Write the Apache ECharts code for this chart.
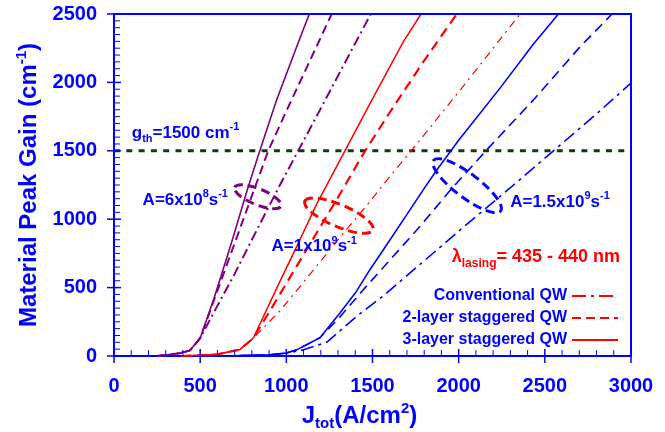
<!DOCTYPE html>
<html>
<head>
<meta charset="utf-8">
<script src="https://cdn.jsdelivr.net/npm/echarts/dist/echarts.min.js"></script>
<style>
  html, body { margin: 0; padding: 0; background: #ffffff; }
  #chart { width: 665px; height: 432px; background: #ffffff; }
</style>
</head>
<body>
<div id="chart"></div>
<script>
// Material peak gain vs. total current density for three active-region designs
// (conventional, 2-layer and 3-layer staggered QW) at three monomolecular
// recombination rates A.

// Axis ranges, major steps and minor steps
const xRange = [0, 3000];
const xStep = 500;
const xMinorStep = 100;
const yRange = [0, 2500];
const yStep = 500;
const yMinorStep = 50;

// Threshold gain (cm^-1)
const gThreshold = 1500;

// A = 6x10^8 s^-1  — [J_tot (A/cm^2), gain (cm^-1)]
const purple3Layer = [[250, 0], [380, 20], [440, 40], [500, 130], [580, 420], [680, 820], [770, 1200], [846, 1500], [943, 1870], [1060, 2260], [1133, 2500]];
const purple2Layer = [[250, 0], [380, 20], [440, 40], [500, 130], [580, 408], [700, 824], [800, 1170], [895, 1500], [1000, 1790], [1130, 2140], [1263, 2500]];
const purpleConv   = [[250, 0], [380, 20], [440, 40], [500, 130], [580, 320], [700, 600], [800, 850], [963, 1250], [1069, 1500], [1200, 1810], [1330, 2120], [1490, 2500]];

// A = 1x10^9 s^-1
const red3Layer = [[390, 0], [600, 12], [730, 47], [808, 130], [963, 545], [1060, 800], [1176, 1110], [1340, 1500], [1500, 1880], [1680, 2300], [1782, 2500]];
const red2Layer = [[390, 0], [600, 12], [730, 47], [808, 130], [900, 320], [1000, 530], [1100, 740], [1200, 950], [1300, 1160], [1457, 1500], [1600, 1780], [1800, 2160], [1989, 2500]];
const redConv   = [[390, 0], [600, 12], [730, 47], [808, 130], [900, 250], [963, 330], [1100, 540], [1300, 850], [1466, 1100], [1600, 1310], [1776, 1580], [2000, 1930], [2200, 2250], [2357, 2500]];

// A = 1.5x10^9 s^-1
const blue3Layer = [[635, 0], [900, 8], [1000, 22], [1060, 45], [1195, 133], [1311, 315], [1400, 460], [1485, 631], [1563, 777], [1700, 1035], [1800, 1225], [1873, 1360], [1999, 1575], [2241, 1960], [2434, 2280], [2579, 2500]];
const blue2Layer = [[635, 0], [900, 8], [1000, 22], [1060, 45], [1195, 133], [1300, 270], [1447, 485], [1600, 700], [1776, 948], [1950, 1210], [2163, 1507], [2434, 1872], [2705, 2261], [2890, 2500]];
const blueConv   = [[635, 0], [900, 8], [1000, 20], [1100, 45], [1234, 100], [1408, 290], [1563, 440], [1853, 753], [2007, 920], [2300, 1230], [2550, 1500], [2800, 1770], [3000, 1995]];

// Legend entries
const legendNames = ['Conventional QW', '2-layer staggered QW', '3-layer staggered QW'];

const BLUE = '#0000ff';
const RED = '#ff0000';
const PURPLE = '#800080';
const FONT = '"Liberation Sans", Arial, Helvetica, sans-serif';

// Line-style presets per structure
const DASH = [9, 5];
const DASH_DOT = [10, 4, 2, 4];

function curve(data, color, width, type, z) {
  return {
    type: 'line', data: data, symbol: 'none', silent: true, z: z || 3,
    lineStyle: { color: color, width: width, type: type },
    clip: true
  };
}

const plain = function (v) { return String(v); };

const chart = echarts.init(document.getElementById('chart'), null, { renderer: 'canvas' });

const option = {
  animation: false,
  grid: { left: 114, right: 34, top: 14, bottom: 76, outerBoundsMode: 'none', containLabel: false },
  legend: {
    data: legendNames,
    orient: 'vertical',
    align: 'right',
    right: 41,
    top: 283,
    itemWidth: 46,
    itemHeight: 12,
    itemGap: 6,
    selectedMode: false,
    itemStyle: { opacity: 0 },
    textStyle: { color: BLUE, fontSize: 16, fontWeight: 'bold', fontFamily: FONT }
  },
  xAxis: {
    type: 'value', min: xRange[0], max: xRange[1], interval: xStep,
    axisLine: { show: true, onZero: false, lineStyle: { color: BLUE, width: 2 } },
    axisTick: { show: false },
    axisLabel: { color: BLUE, fontSize: 20, fontWeight: 'bold', fontFamily: FONT, margin: 20, formatter: plain, hideOverlap: false },
    splitLine: { show: false },
    name: 'J{sub|tot}(A/cm{sup|2})',
    nameLocation: 'middle',
    nameGap: 40,
    nameTextStyle: {
      color: BLUE, fontSize: 24, fontWeight: 'bold', fontFamily: FONT, padding: [0, 26, 0, 0],
      rich: {
        sub: { color: BLUE, fontSize: 15, fontWeight: 'bold', fontFamily: FONT, verticalAlign: 'bottom', lineHeight: 30 },
        sup: { color: BLUE, fontSize: 15, fontWeight: 'bold', fontFamily: FONT, verticalAlign: 'top', lineHeight: 30 }
      }
    }
  },
  yAxis: {
    type: 'value', min: yRange[0], max: yRange[1], interval: yStep,
    axisLine: { show: true, onZero: false, lineStyle: { color: BLUE, width: 2 } },
    axisTick: { show: false },
    axisLabel: { color: BLUE, fontSize: 20, fontWeight: 'bold', fontFamily: FONT, margin: 17, formatter: plain, hideOverlap: false },
    splitLine: { show: false },
    name: 'Material Peak Gain (cm{sup|-1})',
    nameLocation: 'middle',
    nameGap: 67,
    nameTextStyle: {
      color: BLUE, fontSize: 24, fontWeight: 'bold', fontFamily: FONT,
      rich: {
        sup: { color: BLUE, fontSize: 15, fontWeight: 'bold', fontFamily: FONT, verticalAlign: 'top', lineHeight: 30 }
      }
    }
  },
  series: [
    // threshold gain
    { type: 'line', data: [[xRange[0], gThreshold], [xRange[1], gThreshold]], symbol: 'none', silent: true, z: 2,
      lineStyle: { color: '#0d3b0d', width: 3, type: [6, 6.3] } },

    curve(purpleConv, PURPLE, 2, DASH_DOT),
    curve(purple2Layer, PURPLE, 2, DASH),
    curve(purple3Layer, PURPLE, 1.6, 'solid'),

    curve(redConv, RED, 1.2, [8, 5, 2, 5]),
    curve(red2Layer, RED, 2.2, [10, 6]),
    curve(red3Layer, RED, 1.5, 'solid'),

    curve(blueConv, BLUE, 1.6, [13, 5, 3, 5]),
    curve(blue2Layer, BLUE, 1.6, [10, 6]),
    curve(blue3Layer, BLUE, 1.6, 'solid'),

    // legend swatches
    { name: legendNames[0], type: 'line', data: [], symbol: 'none', color: RED,
      lineStyle: { color: RED, width: 3, type: [14, 5, 3, 5] } },
    { name: legendNames[1], type: 'line', data: [], symbol: 'none', color: RED,
      lineStyle: { color: RED, width: 3.5, type: [9, 5] } },
    { name: legendNames[2], type: 'line', data: [], symbol: 'none', color: RED,
      lineStyle: { color: RED, width: 1.5, type: 'solid' } }
  ]
};

chart.setOption(option);

// Helpers working in data space
function px(pt) { return chart.convertToPixel({ xAxisIndex: 0, yAxisIndex: 0 }, pt); }

// Filled bar between two pixel points (used for ticks and the frame)
function bar(x, y, w, h) {
  return {
    type: 'rect', z: 10, silent: true,
    shape: { x: x, y: y, width: w, height: h },
    style: { fill: BLUE, stroke: null }
  };
}

// Axis ticks (major ticks cross the axis, minor ticks point inward) and top/right frame
function frameAndTicks() {
  const out = [];
  for (let v = xRange[0]; v <= xRange[1]; v += xMinorStep) {
    const p = px([v, yRange[0]]);
    if (v % xStep === 0) out.push(bar(p[0] - 0.75, p[1] - 7, 1.5, 14));
    else out.push(bar(p[0] - 0.5, p[1] - 6, 1, 6));
  }
  for (let v = yRange[0]; v <= yRange[1]; v += yMinorStep) {
    const p = px([xRange[0], v]);
    if (v % yStep === 0) out.push(bar(p[0] - 7, p[1] - 0.75, 14, 1.5));
    else out.push(bar(p[0], p[1] - 0.5, 6, 1));
  }
  const tl = px([xRange[0], yRange[1]]);
  const br = px([xRange[1], yRange[0]]);
  out.push(bar(tl[0] - 1, tl[1] - 1, br[0] - tl[0] + 2, 2));
  out.push(bar(br[0] - 1, tl[1] - 1, 2, br[1] - tl[1] + 2));
  return out;
}

function richText(pt, text, color, size, align) {
  const p = px(pt);
  const base = { fontSize: size, fontWeight: 'bold', fontFamily: FONT, fill: color, color: color, lineHeight: size + 6, verticalAlign: 'middle' };
  const small = { fontSize: Math.round(size * 0.65), fontWeight: 'bold', fontFamily: FONT, fill: color, color: color, lineHeight: size + 6 };
  return {
    type: 'text', x: p[0], y: p[1], z: 20, silent: true,
    style: {
      text: text,
      align: align || 'left',
      verticalAlign: 'middle',
      fontSize: size, fontWeight: 'bold', fontFamily: FONT, fill: color,
      rich: {
        m: base,
        sup: Object.assign({}, small, { verticalAlign: 'top' }),
        sub: Object.assign({}, small, { verticalAlign: 'bottom' })
      }
    }
  };
}

function ring(pt, rx, ry, angleDeg, color) {
  const p = px(pt);
  return {
    type: 'ellipse', x: p[0], y: p[1], rotation: -angleDeg * Math.PI / 180, z: 15, silent: true,
    shape: { cx: 0, cy: 0, rx: rx, ry: ry },
    style: { fill: 'none', stroke: color, lineWidth: 3, lineDash: [9, 5] }
  };
}

chart.setOption({
  graphic: frameAndTicks().concat([
    richText([103, 1631], '{m|g}{sub|th}{m|=1500 cm}{sup|-1}', BLUE, 17),
    richText([166, 1140], '{m|A=6x10}{sup|8}{m|s}{sup|-1}', BLUE, 17),
    richText([914, 800], '{m|A=1x10}{sup|9}{m|s}{sup|-1}', BLUE, 17),
    richText([2299, 1124], '{m|A=1.5x10}{sup|9}{m|s}{sup|-1}', BLUE, 17),
    richText([1960, 722], '{m|λ}{sub|lasing}{m|= 435 - 440 nm}', RED, 18),
    ring([835, 1164], 25, 8, 22, PURPLE),
    ring([1305, 1026], 37, 11, 23, RED),
    ring([2049, 1245], 42, 12, 37, BLUE)
  ])
});
</script>
</body>
</html>
